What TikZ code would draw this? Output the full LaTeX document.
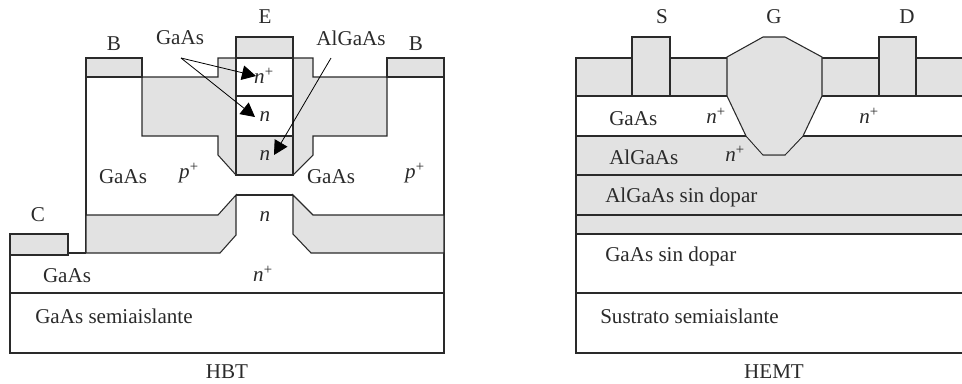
\documentclass[tikz,border=0pt]{standalone}
\usepackage{fontspec}
\setmainfont{Liberation Serif}
\usetikzlibrary{arrows.meta}
\definecolor{layergray}{HTML}{E2E2E2}
\definecolor{ink}{HTML}{2A2A2A}
\tikzset{
  x=0.75pt,y=-0.75pt,
  layer/.style={draw=ink,line width=0.8pt,line join=miter},
  grayed/.style={layer,fill=layergray},
  lbl/.style={inner sep=0pt,text=ink,font=\fontsize{15.8pt}{18pt}\selectfont},
  lblw/.style={lbl,anchor=west},
  ptr/.style={draw=black,line width=0.6pt,arrows={-Triangle[length=10.5pt,width=11pt,fill=black]}}
}
\newcommand{\nplus}{\textit{n}\textsuperscript{+}}
\newcommand{\pplus}{\textit{p}\textsuperscript{+}}
\begin{document}
\begin{tikzpicture}
\useasboundingbox (0,0) rectangle (962,383);
% ---------- HBT ----------
\draw[layer] (10,255) -- (10,353) -- (444,353) -- (444,58);
\draw[layer] (10,293) -- (444,293);
\draw[layer] (86,77) -- (86,253);
\draw[layer] (68,253) -- (86,253);
\draw[grayed] (142,77) -- (218,77) -- (218,58) -- (313,58) -- (313,77) -- (387,77) -- (387,136) -- (313,136) -- (313,155) -- (293,175) -- (236,175) -- (218,155) -- (218,136) -- (142,136) -- cycle;
\draw[grayed] (86,215) -- (218,215) -- (236,195) -- (236,235) -- (220,253) -- (86,253) -- cycle;
\draw[grayed] (293,195) -- (313,215) -- (444,215) -- (444,253) -- (311,253) -- (293,234) -- cycle;
\draw[layer] (236,195) -- (293,195);
\draw[grayed] (86,77) rectangle (142,58);
\draw[grayed] (387,77) rectangle (444,58);
\draw[grayed] (10,255) rectangle (68,234);
\draw[grayed] (236,37) rectangle (293,58);
\draw[layer,fill=white] (236,58) rectangle (293,96);
\draw[layer,fill=white] (236,96) rectangle (293,136);
\draw[grayed] (236,136) rectangle (293,175);
% labels
\node[lbl] (bl) at (114,44) {B};
\node[lbl] (e) at (265,17) {E};
\node[lbl] (br) at (416,44) {B};
\node[lbl] (c) at (38,215) {C};
\node[lbl] (gaastop) at (180,38) {GaAs};
\node[lbl] (algaastop) at (351,38) {AlGaAs};
\node[lbl] (nplusa) at (264,76) {\nplus};
\node[lbl] (na) at (265,117) {\textit{n}};
\node[lbl] (nb) at (265,156) {\textit{n}};
\node[lbl] (gaasl) at (123,177) {GaAs};
\node[lbl] (ppl) at (189,173) {\pplus};
\node[lbl] (gaasr) at (331,177) {GaAs};
\node[lbl] (ppr) at (415,173) {\pplus};
\node[lbl] (nc) at (265,217) {\textit{n}};
\node[lbl] (gaasb) at (67,276) {GaAs};
\node[lbl] (nplusb) at (263,274) {\nplus};
\node[lblw] (sub) at (35,316) {GaAs semiaislante};
\node[lbl] (hbt) at (227,372) {HBT};
% arrows
\coordinate (sa) at (181,58);
\coordinate (ta) at (256,76);
\coordinate (tb) at (255,117);
\coordinate (sb) at (331,58);
\coordinate (tc) at (274,155);
\draw[ptr] (sa) -- (ta);
\draw[ptr] (sa) -- (tb);
\draw[ptr] (sb) -- (tc);
% ---------- HEMT ----------
\fill[layergray] (576,58) rectangle (962,96);
\fill[layergray] (576,136) rectangle (962,234);
\draw[layer] (962,58) -- (576,58) -- (576,353) -- (962,353);
\foreach \yy in {96,136,175,215,234,293} \draw[layer] (576,\yy) -- (962,\yy);
\draw[grayed] (632,96) rectangle (670,37);
\draw[grayed] (879,96) rectangle (916,37);
\draw[grayed] (727,57) -- (763,37) -- (785,37) -- (822,57) -- (822,96) -- (803,136) -- (785,155) -- (763,155) -- (746,136) -- (727,96) -- cycle;
\fill[layergray] (746.5,135.5) -- (802.5,135.5) -- (785,154) -- (763,154) -- cycle;
\node[lbl] (s) at (662,17) {S};
\node[lbl] (g) at (774,17) {G};
\node[lbl] (d) at (907,17) {D};
\node[lblw] (l1) at (609,119) {GaAs};
\node[lbl] (n1) at (716,116) {\nplus};
\node[lblw] (l2) at (609,157) {AlGaAs};
\node[lbl] (n2) at (735,154) {\nplus};
\node[lblw] (l3) at (605,197) {AlGaAs sin dopar};
\node[lblw] (l4) at (605,256) {GaAs sin dopar};
\node[lblw] (l5) at (600,316) {Sustrato semiaislante};
\node[lbl] (n3) at (869,116) {\nplus};
\node[lbl] (hemt) at (774,372) {HEMT};
\end{tikzpicture}
\end{document}
